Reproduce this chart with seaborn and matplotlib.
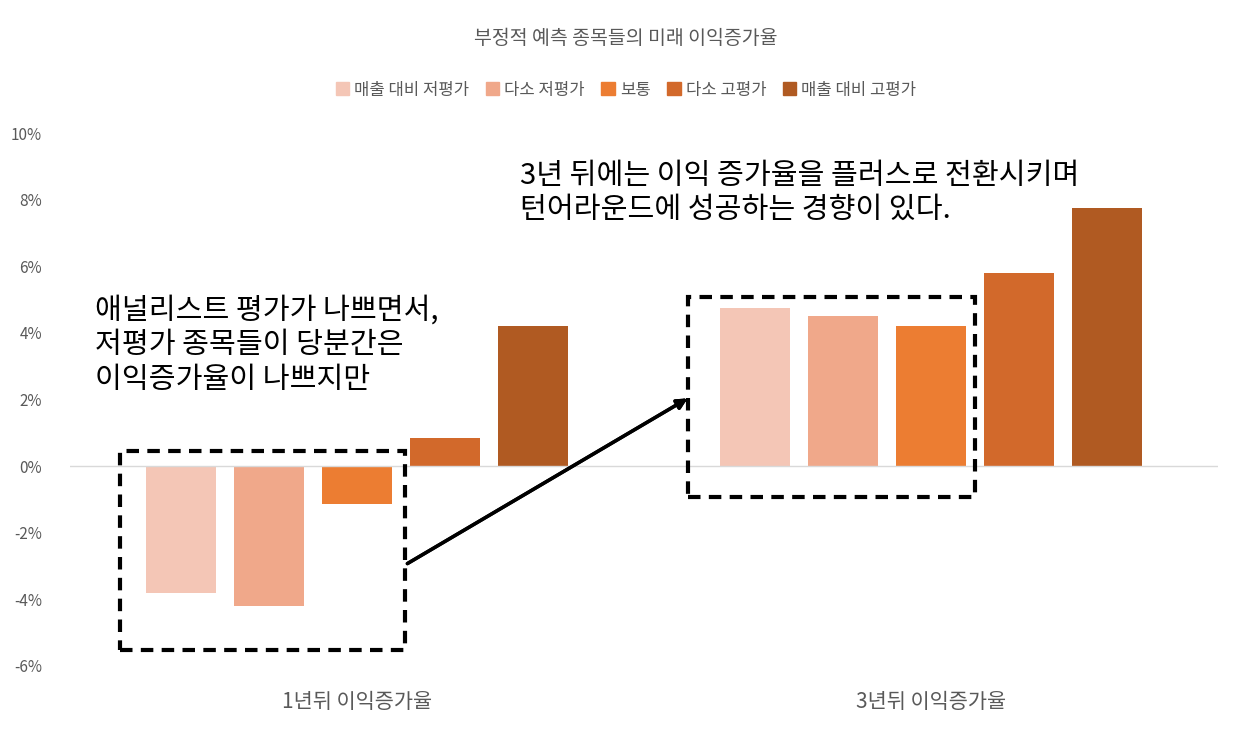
import pandas as pd
import matplotlib.pyplot as plt
import seaborn as sns
from matplotlib.patches import Rectangle, Patch

plt.rcParams["font.family"] = ["Noto Sans CJK KR", "Noto Sans CJK JP", "Noto Sans CJK SC", "DejaVu Sans"]
plt.rcParams["axes.unicode_minus"] = False

### 데이터
기간 = ["1년뒤 이익증가율", "3년뒤 이익증가율"]
평가 = ["매출 대비 저평가", "다소 저평가", "보통", "다소 고평가", "매출 대비 고평가"]
값_1년 = [-3.8, -4.2, -1.15, 0.85, 4.2]
값_3년 = [4.75, 4.5, 4.2, 5.8, 7.75]
색상 = ["#F4C6B6", "#F0A88A", "#EC7D32", "#D2692B", "#B05A22"]

df = pd.DataFrame({
    "기간": [기간[0]] * 5 + [기간[1]] * 5,
    "평가": 평가 * 2,
    "값": 값_1년 + 값_3년,
})

fig = plt.figure(figsize=(12.52, 7.39), dpi=100)
ax = fig.add_axes([70 / 1252, 1 - 666 / 739, (1218 - 70) / 1252, (666 - 133) / 739])
sns.barplot(data=df, x="기간", y="값", hue="평가", hue_order=평가, palette=색상,
            width=0.765, gap=0.2, ax=ax, legend=False, saturation=1)

ax.set_ylim(-6, 10)
ax.set_yticks(range(-6, 11, 2))
ax.set_yticklabels([f"{v}%" for v in range(-6, 11, 2)], color="#595959", fontsize=11)
ax.axhline(0, color="#D9D9D9", lw=1)
for s in ax.spines.values():
    s.set_visible(False)
ax.tick_params(length=0)
ax.tick_params(axis="y", pad=20)
ax.tick_params(axis="x", pad=18, labelsize=15, labelcolor="#595959")
ax.set_xlabel("")
ax.set_ylabel("")

fig.text(0.5, 1 - 38 / 739, "부정적 예측 종목들의 미래 이익증가율", ha="center", va="center",
         fontsize=14, color="#595959")
handles = [Patch(color=c, label=l) for c, l in zip(색상, 평가)]
fig.legend(handles=handles, loc="center", bbox_to_anchor=(0.5, 1 - 90 / 739), ncol=5,
           frameon=False, fontsize=12, handlelength=0.8, handleheight=0.8,
           columnspacing=1.0, handletextpad=0.3, labelcolor="#595959")

# 점선 박스
def 박스(x0, y0, x1, y1):
    fig.patches.append(Rectangle((x0 / 1252, 1 - y1 / 739), (x1 - x0) / 1252, (y1 - y0) / 739,
                                 transform=fig.transFigure, fill=False, ls=(0, (3, 2)),
                                 lw=3, ec="black"))
박스(120, 451, 405, 650)
박스(688, 297, 975, 497)

fig.add_artist(plt.annotate("", xy=(690 / 1252, 1 - 397 / 739), xytext=(405 / 1252, 1 - 565 / 739),
                            xycoords="figure fraction", textcoords="figure fraction",
                            arrowprops=dict(arrowstyle="-|>", lw=2.5, color="black", mutation_scale=15)))

fig.text(95 / 1252, 1 - 345 / 739, "애널리스트 평가가 나쁘면서,\n저평가 종목들이 당분간은\n이익증가율이 나쁘지만",
         ha="left", va="center", fontsize=21, linespacing=1.2)
fig.text(520 / 1252, 1 - 193 / 739, "3년 뒤에는 이익 증가율을 플러스로 전환시키며\n턴어라운드에 성공하는 경향이 있다.",
         ha="left", va="center", fontsize=21, linespacing=1.2)

fig.savefig("out.png", dpi=100)
